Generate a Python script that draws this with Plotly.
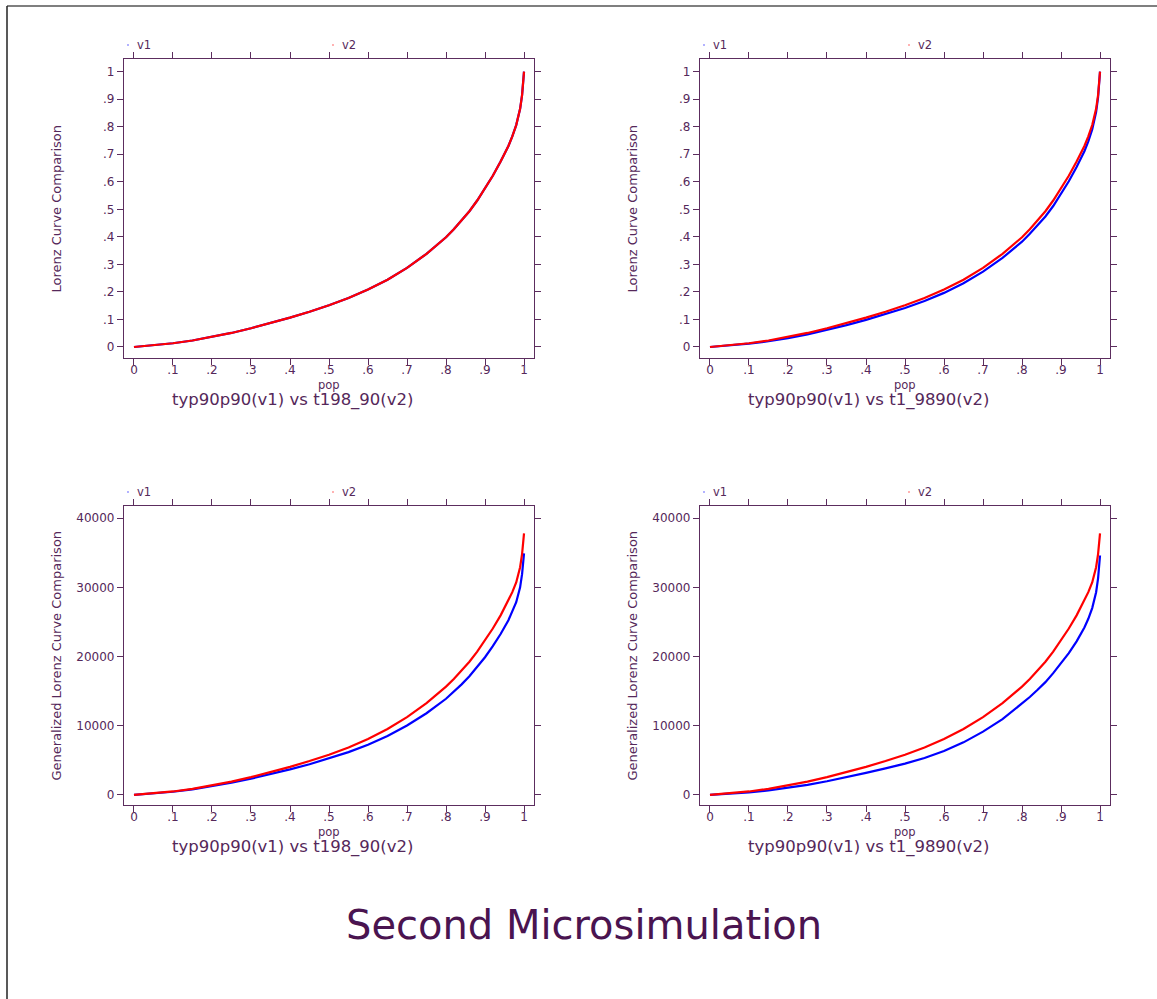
import plotly.graph_objects as go

# ---------------- data ----------------
pop = [0, .05, .1, .15, .2, .25, .3, .35, .4, .45, .5, .55, .6, .65, .7, .75, .8,
       .82, .84, .86, .88, .9, .92, .94, .96, .97, .98, .99, .995, 1]

# Lorenz curves, panel 1 (typ90p90 vs t198_90)
lor1_v1 = [0, .0055, .0135, .0235, .036, .051, .068, .0865, .1065, .128, .1515, .178, .2085, .2445,
           .2875, .3385, .3985, .428, .459, .493, .532, .575, .622, .674, .730, .765, .806,
           .865, .915, 1.0]
lor1_v2 = [0, .0055, .0135, .0235, .036, .051, .068, .0865, .1065, .128, .1515, .178, .2085, .2445,
           .2875, .3385, .3985, .428, .459, .493, .532, .575, .622, .674, .730, .765, .806,
           .865, .915, 1.0]
# Lorenz curves, panel 2 (typ90p90 vs t1_9890)
lor2_v1 = [0, .005, .012, .021, .032, .046, .062, .0795, .0985, .119, .1415, .167, .1965, .2315,
           .2735, .3235, .3825, .411, .441, .474, .512, .555, .602, .654, .711, .747, .790,
           .853, .907, 1.0]
lor2_v2 = [0, .0055, .0135, .0235, .036, .051, .068, .0865, .1065, .128, .1515, .178, .2085, .2445,
           .2875, .3385, .3985, .428, .459, .493, .532, .575, .622, .674, .730, .765, .806,
           .865, .915, 1.0]
# Generalized Lorenz curves
gl1_v1 = [0, 190, 465, 810, 1240, 1760, 2350, 2990, 3690, 4440, 5260, 6190, 7260, 8520, 10030,
          11810, 13900, 14900, 15980, 17150, 18450, 19900, 21500, 23250, 25250, 26450, 27850,
          30000, 31900, 34900]
gl1_v2 = [0, 205, 505, 880, 1350, 1920, 2570, 3280, 4060, 4900, 5820, 6870, 8080, 9530, 11250,
          13280, 15650, 16750, 17950, 19250, 20700, 22300, 24050, 25950, 28050, 29300, 30700,
          32900, 34800, 37800]
gl2_v1 = [0, 150, 370, 660, 1020, 1460, 1980, 2560, 3200, 3850, 4520, 5350, 6350, 7600, 9150,
          10950, 13200, 14150, 15200, 16300, 17600, 19000, 20500, 22200, 24200, 25450, 27000,
          29300, 31300, 34600]
gl2_v2 = [0, 205, 505, 880, 1350, 1920, 2570, 3280, 4060, 4900, 5820, 6870, 8080, 9530, 11250,
          13280, 15650, 16750, 17950, 19250, 20700, 22300, 24050, 25950, 28050, 29300, 30700,
          32900, 34800, 37800]

x_tickvals = [0, .1, .2, .3, .4, .5, .6, .7, .8, .9, 1]
x_ticktext = ["0", ".1", ".2", ".3", ".4", ".5", ".6", ".7", ".8", ".9", "1"]
lor_tickvals = [0, .1, .2, .3, .4, .5, .6, .7, .8, .9, 1]
lor_ticktext = ["0", ".1", ".2", ".3", ".4", ".5", ".6", ".7", ".8", ".9", "1"]
gl_tickvals = [0, 10000, 20000, 30000, 40000]
gl_ticktext = ["0", "10000", "20000", "30000", "40000"]

subtitles = ["typ90p90(v1) vs t198_90(v2)", "typ90p90(v1) vs t1_9890(v2)",
             "typ90p90(v1) vs t198_90(v2)", "typ90p90(v1) vs t1_9890(v2)"]
ytitles = ["Lorenz Curve Comparison", "Lorenz Curve Comparison",
           "Generalized Lorenz Curve Comparison", "Generalized Lorenz Curve Comparison"]
xtitle = "pop"
legend_names = ["v1", "v2"]
main_title = "Second Microsimulation"

# ---------------- layout helpers ----------------
W, H = 1157, 999
FONT = "DejaVu Sans"
AX = "#5c2d5e"
TXT = "#55285a"
BLUE = "#0000ff"
RED = "#ff0000"

def px(x):
    return x / W

def py(y):
    return 1 - y / H

# panel boxes in pixels: (left, right, top, bottom)
boxes = [(124, 534, 59, 358), (700, 1110, 59, 358),
         (124, 534, 506, 805), (700, 1110, 506, 805)]
series = [(lor1_v1, lor1_v2), (lor2_v1, lor2_v2), (gl1_v1, gl1_v2), (gl2_v1, gl2_v2)]
yranges = [[-0.04, 1.046], [-0.04, 1.046], [-1450, 41750], [-1450, 41750]]

fig = go.Figure()
layout = dict(width=W, height=H, margin=dict(l=0, r=0, t=0, b=0),
              paper_bgcolor="white", plot_bgcolor="white", showlegend=False,
              font=dict(family=FONT, color=TXT))
annotations = []
shapes = []

for i, ((l, r, t, b), (s1, s2)) in enumerate(zip(boxes, series)):
    n = "" if i == 0 else str(i + 1)
    xa, ya = "x" + n, "y" + n
    fig.add_trace(go.Scatter(x=pop, y=s1, mode="lines", line=dict(color=BLUE, width=2.2),
                             xaxis=xa, yaxis=ya, name=legend_names[0]))
    fig.add_trace(go.Scatter(x=pop, y=s2, mode="lines", line=dict(color=RED, width=2.2),
                             xaxis=xa, yaxis=ya, name=legend_names[1]))
    common = dict(showgrid=False, zeroline=False, showline=True, linecolor=AX, linewidth=1.3,
                  mirror="ticks", ticks="outside", ticklen=6, tickwidth=1.3, tickcolor=AX,
                  tickfont=dict(family=FONT, size=12, color=TXT))
    layout["xaxis" + n] = dict(common, domain=[px(l), px(r)], range=[-0.0256, 1.0256],
                               tickvals=x_tickvals, ticktext=x_ticktext, anchor=ya,
                               ticklabelstandoff=-6)
    if i >= 2:
        yt = dict(tickvals=gl_tickvals, ticktext=gl_ticktext)
    else:
        yt = dict(tickvals=lor_tickvals, ticktext=lor_ticktext)
    layout["yaxis" + n] = dict(common, domain=[py(b), py(t)], range=yranges[i], anchor=xa, **yt)

    cx = (l + r) / 2
    # x-axis title
    annotations.append(dict(text=xtitle, x=px(cx), y=py(b + 27), xref="paper", yref="paper",
                            showarrow=False, font=dict(size=11.5, color=TXT, family=FONT),
                            xanchor="center", yanchor="middle"))
    # subtitle
    annotations.append(dict(text=subtitles[i], x=px(l + 169), y=py(b + 42),
                            xref="paper", yref="paper", showarrow=False,
                            font=dict(size=16.5, color=TXT, family=FONT),
                            xanchor="center", yanchor="middle"))
    # y title
    annotations.append(dict(text=ytitles[i], x=px(l - 68), y=py((t + b) / 2), xref="paper", yref="paper",
                            showarrow=False, textangle=-90, font=dict(size=13, color=TXT, family=FONT),
                            xanchor="center", yanchor="middle"))
    # legend keys
    for k, (dx, col) in enumerate([(4, BLUE), (209, RED)]):
        kx, ky = l + dx, t - 14
        shapes.append(dict(type="rect", xref="paper", yref="paper",
                           x0=px(kx - 0.6), x1=px(kx + 0.6), y0=py(ky + 0.6), y1=py(ky - 0.6),
                           line=dict(width=0), fillcolor=col))
        annotations.append(dict(text=legend_names[k], x=px(kx + 7), y=py(ky), xref="paper", yref="paper",
                                showarrow=False, font=dict(size=11.5, color=TXT, family=FONT),
                                xanchor="left", yanchor="middle"))

# main title
annotations.append(dict(text=main_title, x=px(584), y=py(925), xref="paper", yref="paper",
                        showarrow=False, font=dict(size=40, color="#4a1450", family=FONT),
                        xanchor="center", yanchor="middle"))

# outer frame lines (top and left)
shapes.append(dict(type="line", xref="paper", yref="paper", x0=px(7), x1=1, y0=py(6), y1=py(6),
                   line=dict(color="#555555", width=1.5)))
shapes.append(dict(type="line", xref="paper", yref="paper", x0=px(7), x1=px(7), y0=py(6), y1=0,
                   line=dict(color="#222222", width=1.5)))

layout["annotations"] = annotations
layout["shapes"] = shapes
fig.update_layout(**layout)
fig.write_html("out.html")
